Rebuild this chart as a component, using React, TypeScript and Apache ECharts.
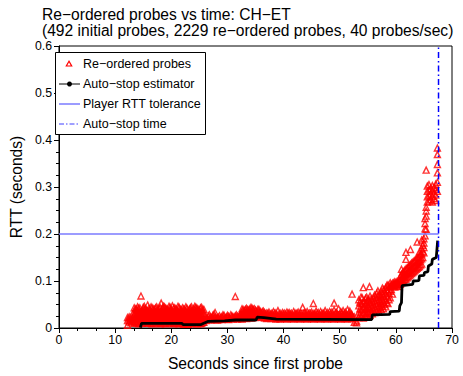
import React, { useEffect, useRef } from "react";
import * as echarts from "echarts";

const FONT = "'Liberation Sans', Arial, Helvetica, sans-serif";

const titleLines = [
  "Re\u2212ordered probes vs time: CH\u2212ET",
  "(492 initial probes, 2229 re\u2212ordered probes, 40 probes/sec)",
];
const xAxisTitle = "Seconds since first probe";
const yAxisTitle = "RTT (seconds)";
const legendNames = [
  "Re\u2212ordered probes",
  "Auto\u2212stop estimator",
  "Player RTT tolerance",
  "Auto\u2212stop time",
];

// Re-ordered probes: [time, list of RTT values read at that time]
const probeColumns: [number, number[]][] = [
  [12.2, [0.006, 0.016, 0.022]],
  [12.5, [0.013, 0.019, 0.024]],
  [12.8, [0.011, 0.018, 0.023]],
  [13.1, [0.014, 0.021, 0.016]],
  [13.4, [0.010, 0.019, 0.028, 0.036, 0.043]],
  [13.6, [0.014, 0.024, 0.033, 0.041]],
  [13.8, [0.012, 0.022, 0.031, 0.040]],
  [14.0, [0.011, 0.020, 0.029, 0.037, 0.045]],
  [14.2, [0.009, 0.017, 0.026, 0.034, 0.042]],
  [14.4, [0.015, 0.025, 0.035, 0.043]],
  [14.6, [0.013, 0.024, 0.033, 0.068]],
  [14.8, [0.010, 0.018, 0.027, 0.036]],
  [15.0, [0.011, 0.020, 0.029, 0.038, 0.044]],
  [15.2, [0.013, 0.022, 0.031, 0.040, 0.046]],
  [15.4, [0.014, 0.023, 0.032, 0.041]],
  [15.6, [0.011, 0.020, 0.029, 0.037]],
  [15.8, [0.010, 0.018, 0.027, 0.036, 0.049]],
  [16.0, [0.015, 0.024, 0.033, 0.042]],
  [16.2, [0.012, 0.021, 0.030, 0.039]],
  [16.4, [0.010, 0.019, 0.028, 0.036, 0.045]],
  [16.6, [0.009, 0.016, 0.025, 0.035, 0.043]],
  [16.8, [0.013, 0.023, 0.032, 0.041]],
  [17.0, [0.013, 0.022, 0.031, 0.040]],
  [17.2, [0.010, 0.017, 0.026, 0.034, 0.043]],
  [17.4, [0.011, 0.019, 0.028, 0.037, 0.045]],
  [17.6, [0.012, 0.021, 0.030, 0.039]],
  [17.8, [0.014, 0.024, 0.033, 0.041]],
  [18.0, [0.009, 0.016, 0.025, 0.034, 0.044]],
  [18.2, [0.010, 0.018, 0.027, 0.036, 0.053]],
  [18.4, [0.013, 0.023, 0.032, 0.042]],
  [18.6, [0.012, 0.021, 0.030, 0.039, 0.046]],
  [18.8, [0.011, 0.019, 0.028, 0.037, 0.045]],
  [19.0, [0.009, 0.017, 0.026, 0.034, 0.042]],
  [19.2, [0.014, 0.022, 0.031, 0.041]],
  [19.4, [0.013, 0.023, 0.032, 0.040]],
  [19.6, [0.010, 0.018, 0.027, 0.035, 0.046]],
  [19.8, [0.011, 0.020, 0.029, 0.038, 0.044]],
  [20.0, [0.012, 0.021, 0.030, 0.039]],
  [20.2, [0.014, 0.022, 0.031, 0.047]],
  [20.4, [0.009, 0.016, 0.025, 0.034, 0.042]],
  [20.6, [0.010, 0.018, 0.027, 0.036, 0.043]],
  [20.8, [0.013, 0.023, 0.032, 0.041]],
  [21.0, [0.012, 0.021, 0.030, 0.039]],
  [21.2, [0.011, 0.019, 0.028, 0.037, 0.046]],
  [21.4, [0.009, 0.016, 0.025, 0.034, 0.044]],
  [21.6, [0.014, 0.023, 0.032, 0.040]],
  [21.8, [0.011, 0.020, 0.029, 0.038]],
  [22.0, [0.010, 0.017, 0.026, 0.035, 0.043]],
  [22.2, [0.008, 0.015, 0.024, 0.033, 0.041]],
  [22.4, [0.012, 0.021, 0.030, 0.039]],
  [22.6, [0.010, 0.019, 0.028, 0.037, 0.045]],
  [22.8, [0.009, 0.016, 0.025, 0.034, 0.042]],
  [23.0, [0.008, 0.017, 0.026, 0.035]],
  [23.2, [0.013, 0.022, 0.031, 0.040]],
  [23.4, [0.011, 0.020, 0.029, 0.038, 0.043]],
  [23.6, [0.010, 0.019, 0.028, 0.037, 0.045]],
  [23.8, [0.009, 0.018, 0.027, 0.036]],
  [24.0, [0.014, 0.023, 0.032, 0.041]],
  [24.2, [0.012, 0.021, 0.030, 0.040, 0.046]],
  [24.4, [0.011, 0.019, 0.028, 0.037, 0.044]],
  [24.6, [0.009, 0.017, 0.026, 0.035, 0.042]],
  [24.8, [0.013, 0.022, 0.031, 0.040]],
  [25.0, [0.011, 0.020, 0.029, 0.038]],
  [25.2, [0.009, 0.016, 0.025, 0.034, 0.043]],
  [25.4, [0.010, 0.018, 0.027, 0.036, 0.044]],
  [25.6, [0.012, 0.021, 0.030, 0.038]],
  [25.8, [0.012, 0.021, 0.031, 0.040]],
  [26.2, [0.016, 0.024]],
  [26.4, [0.021]],
  [26.6, [0.018, 0.026]],
  [26.8, [0.020, 0.028]],
  [27.0, [0.017, 0.023]],
  [27.2, [0.022]],
  [27.4, [0.019, 0.027]],
  [27.6, [0.021, 0.029]],
  [27.8, [0.018, 0.025, 0.033]],
  [28.0, [0.020]],
  [28.2, [0.017, 0.022]],
  [28.4, [0.023, 0.018]],
  [28.6, [0.019, 0.026]],
  [28.8, [0.021]],
  [29.0, [0.018, 0.024]],
  [29.2, [0.022, 0.028]],
  [29.4, [0.020, 0.027]],
  [29.6, [0.021]],
  [29.8, [0.019, 0.023]],
  [30.0, [0.023, 0.027]],
  [30.2, [0.018, 0.025]],
  [30.4, [0.021]],
  [30.6, [0.020, 0.028]],
  [30.8, [0.022, 0.026]],
  [31.0, [0.019, 0.024]],
  [31.2, [0.023]],
  [31.4, [0.021, 0.026, 0.067]],
  [31.6, [0.022, 0.028]],
  [31.8, [0.019, 0.025]],
  [32.0, [0.023]],
  [32.2, [0.020, 0.027]],
  [32.4, [0.024, 0.031]],
  [32.6, [0.019, 0.027, 0.035, 0.041]],
  [32.8, [0.023, 0.031, 0.039]],
  [33.0, [0.021, 0.029, 0.037]],
  [33.2, [0.024, 0.033, 0.040]],
  [33.4, [0.020, 0.028, 0.036, 0.042]],
  [33.6, [0.025, 0.032, 0.039]],
  [33.8, [0.022, 0.030, 0.038]],
  [34.0, [0.024, 0.033, 0.041]],
  [34.2, [0.021, 0.029, 0.037, 0.044]],
  [34.4, [0.026, 0.034, 0.042]],
  [34.6, [0.023, 0.031, 0.040]],
  [34.8, [0.025, 0.033, 0.041]],
  [35.0, [0.022, 0.030, 0.038]],
  [35.2, [0.027, 0.035]],
  [35.4, [0.025, 0.033, 0.039]],
  [35.6, [0.026, 0.034, 0.040]],
  [35.8, [0.024, 0.031, 0.036]],
  [36.0, [0.025, 0.032]],
  [36.2, [0.023, 0.029, 0.035]],
  [36.4, [0.024, 0.030, 0.036]],
  [36.6, [0.021, 0.027, 0.033]],
  [36.8, [0.024, 0.030]],
  [37.0, [0.020, 0.026, 0.032]],
  [37.2, [0.023, 0.031]],
  [37.4, [0.022, 0.028, 0.034]],
  [37.6, [0.024, 0.029]],
  [37.8, [0.020, 0.025, 0.031]],
  [38.0, [0.023, 0.030]],
  [38.2, [0.021, 0.027, 0.035]],
  [38.4, [0.024, 0.031]],
  [38.6, [0.019, 0.025, 0.032]],
  [38.8, [0.022, 0.029]],
  [39.0, [0.020, 0.026, 0.037]],
  [39.2, [0.023, 0.030]],
  [39.4, [0.019, 0.024, 0.031]],
  [39.6, [0.022, 0.028]],
  [39.8, [0.021, 0.027, 0.033]],
  [40.0, [0.023, 0.030]],
  [40.2, [0.020, 0.025, 0.032]],
  [40.4, [0.022, 0.029]],
  [40.6, [0.019, 0.026, 0.034]],
  [40.8, [0.024, 0.031]],
  [41.0, [0.021, 0.028, 0.033]],
  [41.2, [0.023, 0.030]],
  [41.4, [0.020, 0.025, 0.031]],
  [41.6, [0.022, 0.028]],
  [41.8, [0.019, 0.027, 0.035]],
  [42.0, [0.024, 0.030]],
  [42.2, [0.021, 0.026, 0.032]],
  [42.4, [0.023, 0.031]],
  [42.6, [0.020, 0.028, 0.034]],
  [42.8, [0.022, 0.029]],
  [43.0, [0.019, 0.025, 0.031]],
  [43.2, [0.023, 0.030]],
  [43.4, [0.021, 0.027, 0.044]],
  [43.6, [0.024, 0.031]],
  [43.8, [0.020, 0.026, 0.033]],
  [44.0, [0.022, 0.029]],
  [44.2, [0.019, 0.028, 0.035]],
  [44.4, [0.023, 0.030]],
  [44.6, [0.021, 0.025, 0.032]],
  [44.8, [0.024, 0.031]],
  [45.0, [0.020, 0.027, 0.034]],
  [45.2, [0.022, 0.029]],
  [45.3, [0.052]],
  [45.4, [0.019, 0.026, 0.031]],
  [45.6, [0.023, 0.030]],
  [45.8, [0.021, 0.028, 0.036]],
  [46.0, [0.024, 0.031]],
  [46.2, [0.020, 0.025, 0.033]],
  [46.4, [0.022, 0.029]],
  [46.6, [0.019, 0.027, 0.035]],
  [46.8, [0.023, 0.030]],
  [47.0, [0.021, 0.026, 0.032]],
  [47.2, [0.024, 0.031]],
  [47.4, [0.020, 0.028, 0.037]],
  [47.6, [0.022, 0.029]],
  [47.8, [0.019, 0.025, 0.033]],
  [48.0, [0.023, 0.030]],
  [48.2, [0.021, 0.027, 0.035]],
  [48.4, [0.024, 0.031]],
  [48.6, [0.020, 0.026, 0.034]],
  [48.8, [0.022, 0.029]],
  [49.0, [0.019, 0.028, 0.038, 0.053]],
  [49.2, [0.023, 0.031]],
  [49.4, [0.021, 0.025, 0.033]],
  [49.6, [0.024, 0.030]],
  [49.8, [0.020, 0.027, 0.041]],
  [50.0, [0.022, 0.029]],
  [50.2, [0.019, 0.026, 0.035]],
  [50.4, [0.023, 0.031]],
  [50.6, [0.021, 0.028, 0.037]],
  [50.8, [0.024, 0.030]],
  [51.0, [0.020, 0.025, 0.034]],
  [51.2, [0.022, 0.029]],
  [51.4, [0.019, 0.027, 0.039]],
  [51.6, [0.023, 0.031]],
  [51.8, [0.021, 0.026, 0.036]],
  [52.0, [0.024, 0.030]],
  [52.2, [0.020, 0.028, 0.072]],
  [52.4, [0.022]],
  [52.6, [0.012, 0.024]],
  [53.0, [0.011, 0.015]],
  [53.4, [0.022, 0.034, 0.047, 0.060]],
  [53.6, [0.029, 0.041, 0.055]],
  [53.8, [0.025, 0.038, 0.052, 0.066]],
  [54.0, [0.028, 0.040, 0.052, 0.064]],
  [54.2, [0.021, 0.031, 0.043, 0.056, 0.086]],
  [54.4, [0.033, 0.045, 0.058]],
  [54.6, [0.026, 0.039, 0.050, 0.063]],
  [54.8, [0.030, 0.042, 0.055, 0.066]],
  [55.0, [0.023, 0.035, 0.046, 0.059]],
  [55.2, [0.032, 0.044, 0.061]],
  [55.3, [0.088]],
  [55.4, [0.027, 0.041, 0.054, 0.068]],
  [55.6, [0.035, 0.049, 0.062]],
  [55.8, [0.030, 0.044, 0.057]],
  [56.0, [0.038, 0.051, 0.064]],
  [56.2, [0.033, 0.045, 0.058, 0.070]],
  [56.4, [0.040, 0.053, 0.066]],
  [56.6, [0.036, 0.049, 0.062, 0.074]],
  [56.8, [0.042, 0.055, 0.068, 0.079]],
  [57.0, [0.034, 0.047, 0.060, 0.071]],
  [57.2, [0.044, 0.057, 0.070]],
  [57.4, [0.039, 0.052, 0.066, 0.078]],
  [57.6, [0.046, 0.060, 0.073, 0.085]],
  [57.8, [0.041, 0.055, 0.068, 0.082]],
  [58.0, [0.050, 0.063, 0.077]],
  [58.2, [0.045, 0.058, 0.072, 0.086]],
  [58.4, [0.054, 0.068, 0.081, 0.091]],
  [58.6, [0.052, 0.066, 0.079, 0.092]],
  [58.8, [0.060, 0.074, 0.087]],
  [59.0, [0.064, 0.078, 0.089, 0.096]],
  [59.2, [0.082, 0.092]],
  [59.4, [0.072, 0.088, 0.095]],
  [59.6, [0.090, 0.096]],
  [59.8, [0.087, 0.093, 0.098]],
  [60.0, [0.091, 0.097]],
  [60.2, [0.089, 0.095, 0.099]],
  [60.4, [0.092, 0.098]],
  [60.6, [0.088, 0.094, 0.101]],
  [60.8, [0.093, 0.102, 0.110]],
  [61.0, [0.097, 0.106, 0.114, 0.125]],
  [61.2, [0.099, 0.109, 0.118]],
  [61.4, [0.101, 0.111, 0.120]],
  [61.6, [0.103, 0.113, 0.123]],
  [61.8, [0.104, 0.115, 0.126, 0.146, 0.161]],
  [62.0, [0.107, 0.117, 0.128]],
  [62.2, [0.109, 0.119, 0.130]],
  [62.4, [0.111, 0.122, 0.133]],
  [62.6, [0.113, 0.124, 0.135, 0.167]],
  [62.8, [0.116, 0.127, 0.138]],
  [63.0, [0.118, 0.129, 0.140]],
  [63.2, [0.120, 0.131, 0.142]],
  [63.4, [0.122, 0.133, 0.144]],
  [63.6, [0.125, 0.136, 0.147]],
  [63.8, [0.127, 0.138, 0.150, 0.183]],
  [64.0, [0.129, 0.140, 0.151]],
  [64.2, [0.131, 0.142, 0.153, 0.162]],
  [64.4, [0.134, 0.145, 0.156]],
  [64.6, [0.136, 0.147, 0.158, 0.168, 0.187]],
  [64.8, [0.150, 0.163, 0.176]],
  [65.0, [0.160, 0.171, 0.181, 0.190]],
  [65.2, [0.196, 0.211, 0.222, 0.233]],
  [65.4, [0.210, 0.238, 0.249, 0.257, 0.336]],
  [65.6, [0.268, 0.279, 0.291, 0.302]],
  [65.9, [0.270, 0.282, 0.294, 0.305]],
  [66.2, [0.273, 0.285, 0.297]],
  [66.5, [0.268, 0.280, 0.292, 0.303]],
  [66.8, [0.275, 0.287, 0.299]],
  [67.1, [0.271, 0.283, 0.295, 0.306]],
  [67.4, [0.291, 0.310, 0.330, 0.348, 0.369, 0.383]],
];

// Auto-stop estimator: [time, RTT]
const estimatorPoints: [number, number][] = [
  [14.5, 0.001], [14.7, 0.010], [21.9, 0.010], [22.1, 0.007], [25.2, 0.007],
  [26.5, 0.014], [29.5, 0.015], [31.4, 0.017], [35.1, 0.017], [35.3, 0.023],
  [36.5, 0.022], [38.7, 0.019], [55.7, 0.018], [55.8, 0.028], [58.9, 0.029],
  [59.0, 0.035], [60.6, 0.036], [60.7, 0.047], [61.0, 0.054], [61.1, 0.090],
  [63.0, 0.093], [63.1, 0.100], [64.1, 0.101], [64.2, 0.111], [65.0, 0.112],
  [65.1, 0.118], [65.7, 0.120], [65.8, 0.132], [66.4, 0.136], [66.5, 0.146],
  [67.2, 0.150], [67.45, 0.186],
];

const rttTolerance = 0.2;
const autoStopTime = 67.6;
const xRange = [0, 70];
const yRange = [0, 0.6];

export default function App() {
  const ref = useRef<HTMLDivElement>(null);
  useEffect(() => {
    if (!ref.current) return;
    const chart = echarts.init(ref.current, undefined, { renderer: "svg" });
    const probeData: [number, number][] = [];
    probeColumns.forEach(([t, vals]) => vals.forEach((v) => probeData.push([t, v])));

    const lx = 59, rowY = [64, 84, 104, 124];
    const legendGraphics: any[] = [
      {
        type: "rect",
        shape: { x: 55.5, y: 52.5, width: 150, height: 82 },
        style: { fill: "#fff", stroke: "#000", lineWidth: 1 },
        z: 100,
      },
      {
        type: "polygon",
        shape: { points: [[69, rowY[0] - 2.8], [66.3, rowY[0] + 2], [71.7, rowY[0] + 2]] },
        style: { fill: "none", stroke: "#ff0000", lineWidth: 1.2 },
        z: 101,
      },
      {
        type: "line",
        shape: { x1: lx, y1: rowY[1], x2: lx + 21, y2: rowY[1] },
        style: { stroke: "#000", lineWidth: 1 },
        z: 101,
      },
      {
        type: "circle",
        shape: { cx: lx + 10.5, cy: rowY[1], r: 2.5 },
        style: { fill: "#000" },
        z: 101,
      },
      {
        type: "line",
        shape: { x1: lx, y1: rowY[2], x2: lx + 21, y2: rowY[2] },
        style: { stroke: "#7b7bff", lineWidth: 1.5 },
        z: 101,
      },
      {
        type: "line",
        shape: { x1: lx, y1: rowY[3], x2: lx + 21, y2: rowY[3] },
        style: { stroke: "#4040ff", lineWidth: 1.2, lineDash: [5, 2, 1.5, 2] },
        z: 101,
      },
    ];
    legendNames.forEach((n, i) => {
      legendGraphics.push({
        type: "text",
        x: 83,
        y: rowY[i],
        style: {
          text: n,
          font: `12.5px ${FONT}`,
          fill: "#000",
          verticalAlign: "middle",
          align: "left",
        },
        z: 101,
      });
    });

    chart.setOption({
      animation: false,
      backgroundColor: "#fff",
      title: {
        text: titleLines.join("\n"),
        left: 42,
        top: 6,
        padding: 0,
        textStyle: {
          fontFamily: FONT,
          fontSize: 15.6,
          fontWeight: "normal",
          color: "#000",
          lineHeight: 16.5,
        },
      },
      grid: {
        left: 52,
        right: 11,
        top: 46,
        bottom: 47,
        show: true,
        borderColor: "#000",
        borderWidth: 1,
        backgroundColor: "transparent",
      },
      xAxis: {
        type: "value",
        min: xRange[0],
        max: xRange[1],
        interval: 10,
        name: xAxisTitle,
        nameLocation: "middle",
        nameGap: 27,
        nameTextStyle: { fontFamily: FONT, fontSize: 15.6, color: "#000" },
        axisLine: { show: true, lineStyle: { color: "#000", width: 1 } },
        axisTick: { show: true, inside: false, length: 5, lineStyle: { color: "#000" } },
        minorTick: { show: true, splitNumber: 3, length: 3, lineStyle: { color: "#000" } },
        axisLabel: { fontFamily: FONT, fontSize: 12.3, color: "#000", margin: 6 },
        splitLine: { show: false },
      },
      yAxis: {
        type: "value",
        min: yRange[0],
        max: yRange[1],
        interval: 0.1,
        name: yAxisTitle,
        nameLocation: "middle",
        nameGap: 25,
        nameTextStyle: { fontFamily: FONT, fontSize: 15.6, color: "#000" },
        axisLine: { show: true, lineStyle: { color: "#000", width: 1 } },
        axisTick: { show: true, inside: false, length: 5, lineStyle: { color: "#000" } },
        minorTick: { show: true, splitNumber: 4, length: 3, lineStyle: { color: "#000" } },
        axisLabel: {
          fontFamily: FONT,
          fontSize: 12.3,
          color: "#000",
          margin: 7,
          formatter: (v: number) => (v === 0 ? "0" : String(Math.round(v * 10) / 10)),
        },
        splitLine: { show: false },
      },
      series: [
        {
          name: legendNames[0],
          type: "scatter",
          data: probeData,
          symbol: "triangle",
          symbolSize: 6,
          itemStyle: { color: "rgba(0,0,0,0)", borderColor: "#ff0000", borderWidth: 1.4 },
          z: 2,
        },
        {
          name: legendNames[1],
          type: "line",
          data: estimatorPoints,
          showSymbol: false,
          lineStyle: { color: "#000", width: 2.8 },
          z: 3,
        },
        {
          name: legendNames[2],
          type: "line",
          data: [[xRange[0], rttTolerance], [autoStopTime, rttTolerance]],
          showSymbol: false,
          lineStyle: { color: "#7b7bff", width: 1.5 },
          z: 4,
        },
        {
          name: legendNames[3],
          type: "line",
          data: [[autoStopTime, yRange[0]], [autoStopTime, yRange[1]]],
          showSymbol: false,
          lineStyle: { color: "#0000ff", width: 1.5, type: [6, 3, 1.5, 3] },
          z: 5,
        },
      ],
      graphic: legendGraphics,
    });
    return () => chart.dispose();
  }, []);
  return <div ref={ref} style={{ width: 463, height: 376, position: "absolute", left: 0, top: 0 }} />;
}
